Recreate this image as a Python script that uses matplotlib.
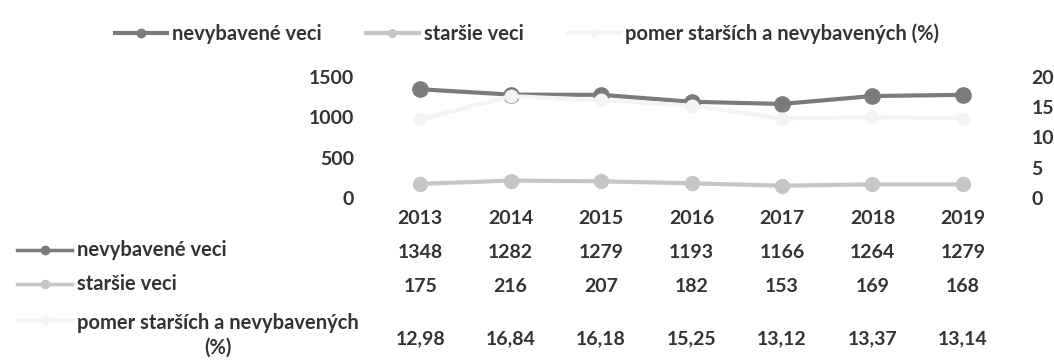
import matplotlib.pyplot as plt
from matplotlib.lines import Line2D
from matplotlib import transforms

# Data
years = ["2013", "2014", "2015", "2016", "2017", "2018", "2019"]
nevybavene = [1348, 1282, 1279, 1193, 1166, 1264, 1279]
starsie = [175, 216, 207, 182, 153, 169, 168]
pomer = [12.98, 16.84, 16.18, 15.25, 13.12, 13.37, 13.14]

labels = ["nevybavené veci", "staršie veci", "pomer starších a nevybavených (%)"]
table_labels = ["nevybavené veci", "staršie veci", "pomer starších a nevybavených\n(%)"]

colors = ["#7b7b7b", "#c6c6c6", "#f4f4f4"]
text_color = "#333333"

plt.rcParams["font.family"] = ["Lato", "DejaVu Sans"]
plt.rcParams["font.weight"] = "bold"
plt.rcParams["font.size"] = 14

W, H = 1054, 364
fig = plt.figure(figsize=(W / 100, H / 100), dpi=100)
ax = fig.add_axes([375 / W, 1 - 198 / H, 633 / W, 121 / H])
ax2 = ax.twinx()

x = list(range(len(years)))
l1, = ax.plot(x, nevybavene, color=colors[0], lw=3, marker="o", ms=11, zorder=3)
l2, = ax.plot(x, starsie, color=colors[1], lw=3, marker="o", ms=10, zorder=3)
l3, = ax2.plot(x, pomer, color=colors[2], lw=3, marker="o", ms=9, zorder=1)

ax.set_xlim(-0.5, len(years) - 0.5)
ax.set_ylim(0, 1500)
ax.set_yticks([0, 500, 1000, 1500])
ax2.set_ylim(0, 20)
ax2.set_yticks([0, 5, 10, 15, 20])
ax.set_xticks(x)
ax.set_xticklabels(years)

for a in (ax, ax2):
    for s in a.spines.values():
        s.set_visible(False)
    a.tick_params(length=0, colors=text_color, labelsize=14)
ax.tick_params(axis="y", pad=15)
ax2.tick_params(axis="y", pad=17)
ax.tick_params(axis="x", pad=9)

# legend above the plot
fig.legend([l1, l2, l3], labels, loc="center", bbox_to_anchor=(0.5, 1 - 34 / H),
           ncol=3, frameon=False, handlelength=2.6, handletextpad=0.25,
           columnspacing=2.2, markerscale=0.55,
           prop={"family": "Lato", "size": 14.5, "weight": "bold"},
           labelcolor=text_color)

# data table below the axis
trans = transforms.blended_transform_factory(ax.transData, fig.transFigure)
rows = [nevybavene, starsie, [f"{v:.2f}".replace(".", ",") for v in pomer]]
row_y = [252, 287, 339]
for vals, yy in zip(rows, row_y):
    for xi, v in zip(x, vals):
        fig.text(xi, 1 - yy / H, str(v), transform=trans, ha="center", va="center",
                 color=text_color, fontsize=14)

key_y = [250, 284, 320]
label_y = [250, 284, 335]
for lab, c, yy, ty in zip(table_labels, colors, key_y, label_y):
    fig.add_artist(Line2D([17 / W, 44.5 / W, 72 / W], [1 - yy / H] * 3, color=c, lw=2.5,
                          marker="o", ms=6, markevery=[1], transform=fig.transFigure))
    fig.text(77 / W, 1 - ty / H, lab, ha="left", va="center", multialignment="center",
             color=text_color, fontsize=14.5, linespacing=1.3)

fig.savefig("out.png", dpi=100, facecolor="white")
